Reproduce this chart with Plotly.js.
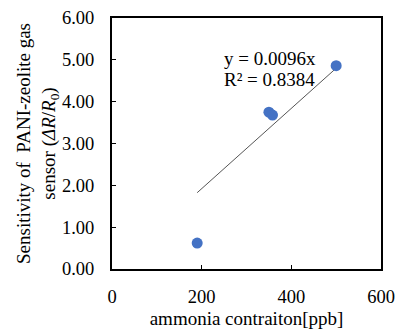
<!DOCTYPE html>
<html><head><meta charset="utf-8">
<script src="https://cdn.plot.ly/plotly-3.0.1.min.js"></script>
<style>html,body{margin:0;padding:0;background:#fff}</style>
</head><body><div id="chart" style="width:396px;height:329px"></div>
<script>
var concentration = [190, 350, 358, 500];
var sensitivity = [0.62, 3.75, 3.68, 4.86];
var slope = 0.0096;
var trendX = [190, 500];
var trendY = trendX.map(function(x){return slope*x;});
var yTicks = [0,1,2,3,4,5,6];
var xTicks = [0,200,400,600];
var F = 'Liberation Serif, Times New Roman, serif';
Plotly.newPlot('chart', [
 {x: trendX, y: trendY, mode:'lines', line:{color:'#555555', width:1}, hoverinfo:'skip', showlegend:false},
 {x: concentration, y: sensitivity, mode:'markers', marker:{color:'#4472C4', size:11}, showlegend:false}
], {
 width:396, height:329,
 margin:{l:112, r:15, t:18, b:60},
 paper_bgcolor:'#fff', plot_bgcolor:'#fff',
 font:{family:F, size:18.5, color:'#000'},
 xaxis:{range:[0,600], tickvals:xTicks, ticktext:xTicks.map(String), ticks:'inside', ticklen:4, tickcolor:'#000',
   showline:true, mirror:true, linecolor:'#000', linewidth:2, showgrid:false, zeroline:false,
   tickfont:{family:F, size:18.5}, ticklabelstandoff:10,
   title:{text:'ammonia contraiton[ppb]', font:{family:F, size:19}, standoff:10}},
 yaxis:{range:[0,6], tickvals:yTicks, ticktext:yTicks.map(function(v){return v.toFixed(2);}), ticks:'inside', ticklen:4, tickcolor:'#000',
   showline:true, mirror:true, linecolor:'#000', linewidth:2, showgrid:false, zeroline:false,
   tickfont:{family:F, size:18.5}, ticklabelstandoff:12,
   title:{text:'Sensitivity of  PANI-zeolite gas<br>sensor (<i>ΔR</i>/<i>R</i><sub>0</sub>)', font:{family:F, size:19}, standoff:1}},
 annotations:[
  {xref:'paper', yref:'paper', x:0.408, y:0.837, xanchor:'left', yanchor:'middle', showarrow:false,
   text:'y = 0.0096x', font:{family:F, size:19, color:'#000'}},
  {xref:'paper', yref:'paper', x:0.408, y:0.753, xanchor:'left', yanchor:'middle', showarrow:false,
   text:'R² = 0.8384', font:{family:F, size:19, color:'#000'}}
 ]
}, {staticPlot:true});
</script></body></html>
